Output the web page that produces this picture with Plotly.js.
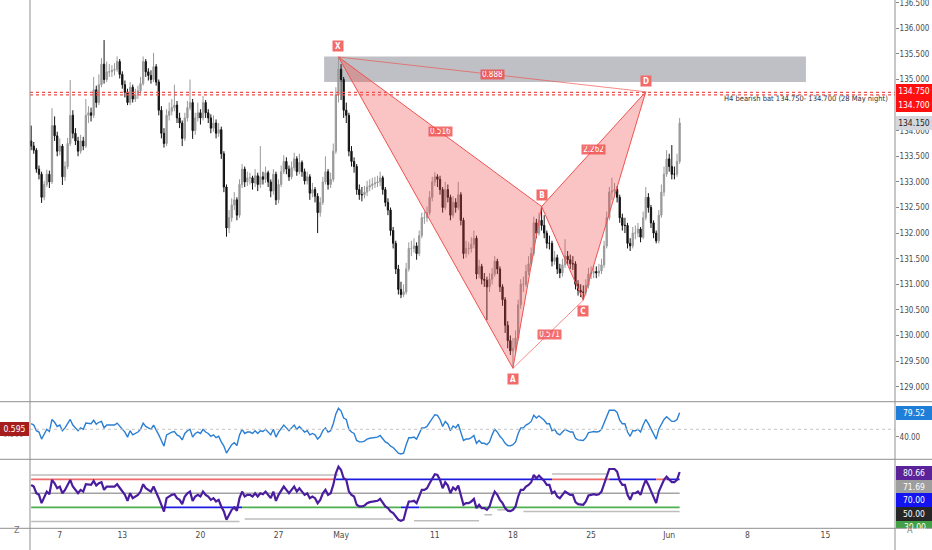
<!DOCTYPE html>
<html><head><meta charset="utf-8">
<script src="https://cdn.plot.ly/plotly-3.0.1.min.js"></script>
<style>html,body{margin:0;padding:0;background:#fff;}#chart{width:932px;height:550px;}</style>
</head><body><div id="chart"></div>
<script>
// ---------------- DATA ----------------
const tradingDays = ['2020-04-03','2020-04-06','2020-04-07','2020-04-08','2020-04-09','2020-04-10','2020-04-13','2020-04-14','2020-04-15','2020-04-16','2020-04-17','2020-04-20','2020-04-21','2020-04-22','2020-04-23','2020-04-24','2020-04-27','2020-04-28','2020-04-29','2020-04-30','2020-05-01','2020-05-04','2020-05-05','2020-05-06','2020-05-07','2020-05-08','2020-05-11','2020-05-12','2020-05-13','2020-05-14','2020-05-15','2020-05-18','2020-05-19','2020-05-20','2020-05-21','2020-05-22','2020-05-25','2020-05-26','2020-05-27','2020-05-28','2020-05-29','2020-06-01'];
const barHours = ['00:00','04:00','08:00','12:00','16:00','20:00'];
const firstBar = '2020-04-03 04:00';

const open = [
133.80,133.70,133.62,133.25,133.15,132.70,132.95,133.15,133.00,134.10,
133.90,133.60,133.70,133.10,133.30,133.75,134.30,133.95,133.80,133.60,
133.80,133.70,134.30,134.35,134.30,134.80,134.55,134.90,135.30,135.00,
135.15,135.15,135.18,135.20,135.35,135.10,134.90,134.75,134.55,134.85,
134.62,134.70,134.78,134.92,135.35,135.15,135.08,135.00,135.25,134.95,
134.40,133.95,133.75,134.30,134.38,134.45,134.50,134.25,134.15,133.85,
134.25,134.45,134.55,134.00,134.25,134.35,134.25,134.55,134.35,134.25,
134.05,134.15,133.95,134.02,133.55,132.90,132.10,132.30,132.55,132.65,
132.35,132.95,133.25,133.00,133.08,133.08,132.98,133.12,132.95,133.10,
133.05,133.18,133.00,132.82,133.15,132.65,132.95,133.20,133.40,133.25,
133.10,133.28,133.45,133.20,133.38,133.20,133.02,133.10,132.78,132.85,
132.72,132.40,132.60,133.00,133.20,132.95,133.05,133.60,134.70,135.20,
135.00,134.40,134.30,133.60,133.40,133.30,132.85,132.75,132.75,132.80,
132.90,132.93,132.96,132.98,133.00,133.08,132.85,132.60,132.45,132.05,
131.80,131.30,130.90,130.80,130.85,131.30,131.70,131.70,131.75,131.60,
131.95,132.30,132.30,132.40,132.70,133.00,133.10,133.05,132.85,132.50,
132.85,132.70,132.35,132.60,132.50,132.75,132.25,131.60,131.70,131.70,
131.78,131.90,131.20,131.35,131.10,131.08,130.95,131.10,131.20,131.45,
131.30,130.95,130.70,130.20,129.90,129.70,129.75,129.95,130.60,131.00,
131.00,131.25,131.40,131.60,132.20,132.00,132.25,132.15,132.00,131.80,
131.80,131.45,131.52,131.30,131.22,131.38,131.55,131.48,131.40,131.40,
131.00,130.88,130.85,130.84,130.98,131.20,131.22,131.25,131.22,131.26,
131.38,131.75,132.30,132.80,132.82,132.85,132.70,132.30,132.15,132.15,
131.80,131.75,132.00,132.00,132.08,131.92,132.30,132.70,132.50,132.20,
132.00,131.85,132.35,132.80,133.15,133.45,133.30,133.15,133.15,133.40];

const high = [
134.10,133.78,133.66,133.32,133.20,133.02,133.24,133.22,134.44,134.28,
133.98,133.85,133.74,133.40,133.86,134.99,134.40,134.05,133.88,133.92,
133.88,134.62,134.48,134.45,135.05,134.88,135.10,135.42,135.77,135.35,
135.30,135.28,135.32,135.45,135.40,135.16,134.98,134.82,134.95,134.90,
134.82,134.88,135.05,135.45,135.40,135.22,135.18,135.52,135.30,135.00,
134.48,134.05,134.42,134.55,134.62,134.90,134.58,134.35,134.20,134.35,
134.58,135.00,134.62,134.35,134.55,134.42,134.68,134.60,134.42,134.32,
134.30,134.22,134.15,134.08,133.60,132.95,132.45,132.68,132.80,132.70,
133.05,133.35,133.30,133.20,133.18,133.12,133.25,133.18,133.70,133.20,
133.30,133.22,133.05,133.25,133.20,133.05,133.32,133.52,133.48,133.32,
133.40,133.57,133.50,133.55,133.42,133.26,133.20,133.15,132.98,132.90,
132.78,132.70,133.10,133.50,133.25,133.18,133.75,134.85,135.44,135.30,
135.05,134.55,134.35,133.70,133.48,133.35,132.95,132.90,132.92,133.02,
133.05,133.08,133.10,133.12,133.20,133.12,132.90,132.68,132.50,132.12,
131.85,131.38,131.05,131.00,131.42,131.82,131.85,131.90,131.82,132.05,
132.40,132.42,132.52,132.82,133.10,133.19,133.15,133.12,132.90,133.00,
132.95,132.75,132.72,132.68,133.00,132.80,132.30,131.85,131.82,131.92,
132.05,131.95,131.48,131.40,131.22,131.15,131.22,131.32,131.55,131.50,
131.35,131.00,130.75,130.28,130.00,129.95,130.10,130.70,131.10,131.15,
131.38,131.55,131.72,132.32,132.28,132.40,132.52,132.35,132.05,131.95,
131.85,131.65,131.58,131.40,131.50,131.88,131.65,131.58,131.55,131.45,
131.08,131.00,130.98,131.10,131.32,131.35,131.38,131.35,131.40,131.50,
131.85,132.42,132.90,133.08,132.98,132.92,132.75,132.38,132.30,132.20,
131.90,132.12,132.15,132.20,132.12,132.42,132.90,132.78,132.55,132.25,
132.05,132.45,132.95,133.30,133.62,133.55,133.72,133.30,133.55,134.25];

const low = [
133.62,133.55,133.18,133.05,132.59,132.64,132.90,132.88,132.96,133.80,
133.50,133.52,132.94,133.02,133.25,133.70,133.85,133.72,133.50,133.55,
133.62,133.66,134.15,134.18,134.25,134.45,134.50,134.85,134.92,134.95,
135.05,135.05,135.08,135.15,135.02,134.82,134.65,134.50,134.50,134.55,
134.56,134.62,134.72,134.88,135.05,134.98,134.92,134.95,134.88,134.30,
133.85,133.67,133.70,134.20,134.30,134.38,134.15,134.05,133.70,133.80,
134.18,134.40,133.84,133.92,134.18,134.12,134.20,134.25,134.15,133.95,
133.98,133.85,133.88,133.45,132.80,131.93,132.00,132.22,132.45,132.25,
132.30,132.88,132.90,132.92,132.95,132.85,132.90,132.82,132.88,132.95,
132.98,132.90,132.70,132.75,132.55,132.58,132.90,133.15,133.15,133.02,
133.05,133.22,133.12,133.15,133.10,132.95,132.95,132.65,132.70,132.60,
132.00,132.32,132.55,132.95,132.85,132.88,133.00,133.55,134.55,134.60,
134.25,134.15,133.50,133.30,133.18,132.75,132.65,132.62,132.68,132.72,
132.82,132.85,132.88,132.90,132.92,132.75,132.52,132.35,131.95,131.70,
131.20,130.80,130.73,130.75,130.80,131.25,131.55,131.62,131.48,131.55,
131.90,132.18,132.22,132.35,132.62,132.92,132.90,132.75,132.40,132.45,
132.60,132.25,132.30,132.40,132.45,132.15,131.50,131.52,131.58,131.62,
131.70,131.10,131.12,131.00,130.95,130.30,130.85,131.00,131.15,131.20,
130.85,130.58,130.05,129.75,129.62,129.36,129.65,129.90,130.52,130.85,
130.95,131.18,131.35,131.55,131.90,131.95,132.05,131.90,131.70,131.68,
131.35,131.38,131.20,131.12,131.15,131.32,131.38,131.30,131.28,130.90,
130.78,130.75,130.69,130.78,130.92,131.10,131.12,131.12,131.15,131.20,
131.32,131.70,132.25,132.65,132.70,132.60,132.20,132.05,132.00,131.70,
131.65,131.70,131.88,131.92,131.82,131.88,132.25,132.40,132.10,131.90,
131.80,131.80,132.30,132.72,133.10,133.20,133.05,133.05,133.10,133.35];

const close = [
133.70,133.62,133.25,133.15,132.70,132.95,133.15,133.00,134.10,133.90,
133.60,133.70,133.10,133.30,133.75,134.30,133.95,133.80,133.60,133.80,
133.70,134.30,134.35,134.30,134.80,134.55,134.90,135.30,135.00,135.15,
135.15,135.18,135.20,135.35,135.10,134.90,134.75,134.55,134.85,134.62,
134.70,134.78,134.92,135.35,135.15,135.08,135.00,135.25,134.95,134.40,
133.95,133.75,134.30,134.38,134.45,134.50,134.25,134.15,133.85,134.25,
134.45,134.55,134.00,134.25,134.35,134.25,134.55,134.35,134.25,134.05,
134.15,133.95,134.02,133.55,132.90,132.10,132.30,132.55,132.65,132.35,
132.95,133.25,133.00,133.08,133.08,132.98,133.12,132.95,133.10,133.05,
133.18,133.00,132.82,133.15,132.65,132.95,133.20,133.40,133.25,133.10,
133.28,133.45,133.20,133.38,133.20,133.02,133.10,132.78,132.85,132.72,
132.40,132.60,133.00,133.20,132.95,133.05,133.60,134.70,135.20,135.00,
134.40,134.30,133.60,133.40,133.30,132.85,132.75,132.75,132.80,132.90,
132.93,132.96,132.98,133.00,133.08,132.85,132.60,132.45,132.05,131.80,
131.30,130.90,130.80,130.85,131.30,131.70,131.70,131.75,131.60,131.95,
132.30,132.30,132.40,132.70,133.00,133.10,133.05,132.85,132.50,132.85,
132.70,132.35,132.60,132.50,132.75,132.25,131.60,131.70,131.70,131.78,
131.90,131.20,131.35,131.10,131.08,130.95,131.10,131.20,131.45,131.30,
130.95,130.70,130.20,129.90,129.70,129.75,129.95,130.60,131.00,131.00,
131.25,131.40,131.60,132.20,132.00,132.25,132.15,132.00,131.80,131.80,
131.45,131.52,131.30,131.22,131.38,131.55,131.48,131.40,131.40,131.00,
130.88,130.85,130.84,130.98,131.20,131.22,131.25,131.22,131.26,131.38,
131.75,132.30,132.80,132.82,132.85,132.70,132.30,132.15,132.15,131.80,
131.75,132.00,132.00,132.08,131.92,132.30,132.70,132.50,132.20,132.00,
131.85,132.35,132.80,133.15,133.45,133.30,133.15,133.15,133.40,134.15];

const rsi = [
62.1,59.8,50.2,47.9,36.0,45.5,52.6,48.8,69.3,64.5,
57.4,59.8,50.2,55.0,62.1,69.3,59.8,55.0,50.2,55.0,
52.6,63.1,63.1,62.1,67.9,61.2,64.5,66.0,55.0,59.8,
59.8,59.8,59.8,63.1,57.4,52.6,47.9,39.3,50.2,43.1,
45.5,47.9,52.6,63.1,57.4,55.0,52.6,59.8,52.6,43.1,
33.6,24.0,43.1,45.5,47.9,48.8,43.1,40.7,34.5,45.5,
50.2,52.6,39.3,45.5,47.9,45.5,52.6,47.9,45.5,40.7,
43.1,38.3,40.7,31.2,24.0,12.1,19.3,26.4,29.8,25.0,
43.1,52.6,45.5,47.9,47.9,45.5,50.2,45.5,50.2,48.8,
52.6,47.9,43.1,52.6,39.3,47.9,55.0,59.8,55.0,50.2,
55.0,59.8,52.6,57.4,52.6,47.9,50.2,43.1,45.5,43.1,
36.0,40.7,50.2,55.0,47.9,50.2,62.1,78.8,88.3,83.6,
71.7,69.3,52.6,47.9,45.5,33.6,31.2,31.2,32.5,36.0,
37.4,38.3,38.8,39.3,42.1,36.0,31.2,28.8,24.0,21.7,
16.9,12.1,10.7,12.1,26.4,38.3,38.3,39.3,36.0,45.5,
55.0,55.0,57.4,64.5,71.7,77.4,76.4,69.3,57.4,66.0,
61.2,50.2,58.3,55.0,61.2,47.9,33.6,36.0,36.0,38.3,
42.1,28.8,33.6,28.8,28.8,26.4,31.2,43.1,52.6,47.9,
40.7,36.0,28.8,25.0,24.5,26.4,31.2,45.5,55.0,55.0,
59.8,62.1,66.0,76.4,71.7,75.5,71.7,67.9,62.1,62.1,
50.2,52.6,45.5,43.1,47.9,52.6,50.2,47.9,47.9,37.4,
34.5,33.6,33.6,38.3,46.9,47.9,48.8,47.9,48.8,52.6,
64.5,76.4,85.0,85.0,85.0,81.2,67.9,62.1,62.1,47.9,
40.7,50.2,50.2,52.6,47.9,59.8,69.3,62.1,52.6,45.5,
36.0,52.6,62.1,69.3,74.0,70.0,66.0,66.0,69.3,80.7];

// Harmonic pattern
const patternNames = ['X','A','B','C','D'];
const patternTimes = ['2020-04-30 20:00','2020-05-18 00:00','2020-05-19 20:00','2020-05-22 12:00','2020-05-28 12:00'];
const patternPrices = [135.44, 129.36, 132.52, 130.69, 134.76];
const ratioLegs = [['X','B'],['B','D'],['X','D'],['A','C']];
const ratioValues = ['0.516','2.262','0.888','0.571'];

// Supply zone and target lines
const zoneTimes = ['2020-04-29 22:00','2020-06-11 18:00'];
const zonePrices = [134.95, 135.45];
const targetLevels = [134.75, 134.70];
const noteText = 'H4 bearish bat 134.750- 134.700 (28 May night)';
const notePrice = 134.62;

// Oscillator panels
const panel2RefLevel = 52.6;
const panel2Label = '79.52';
const panel2Ticks = [40];
const panel2TickText = ['40.00'];
const leftLabel = '0.595';
const leftSubLabel = '0.500';
const rsiLevels = [70, 50, 30];
const rsiLabelTexts = ['80.66','71.69','70.00','50.00','30.00'];

const upperSegStart = ['2020-04-03 04:00','2020-04-30 16:00','2020-05-20 12:00','2020-05-26 04:00','2020-05-29 04:00','2020-05-29 20:00'];
const upperSegEnd   = ['2020-04-30 16:00','2020-05-20 12:00','2020-05-26 04:00','2020-05-29 04:00','2020-05-29 20:00','2020-06-01 16:00'];
const upperSegState = ['idle','hit','idle','hit','idle','hit'];
const lowerSegStart = ['2020-04-03 04:00','2020-04-15 16:00','2020-04-22 16:00','2020-05-06 20:00','2020-05-08 00:00'];
const lowerSegEnd   = ['2020-04-15 16:00','2020-04-22 16:00','2020-05-06 20:00','2020-05-08 00:00','2020-06-01 16:00'];
const lowerSegState = ['idle','hit','idle','hit','idle'];
const graySegStart = ['2020-04-03 04:00','2020-05-20 12:00','2020-04-03 04:00','2020-04-22 20:00','2020-05-07 16:00','2020-05-14 04:00','2020-05-15 00:00','2020-05-18 16:00'];
const graySegEnd   = ['2020-04-30 20:00','2020-05-26 00:00','2020-04-22 12:00','2020-05-06 08:00','2020-05-13 20:00','2020-05-14 16:00','2020-05-15 20:00','2020-06-01 16:00'];
const graySegLevel = [76.4, 77.9, 9.8, 13.1, 10.7, 19.3, 26.4, 24.0];

// X axis
const xTickVals = ['2020-04-07','2020-04-13','2020-04-20','2020-04-27','2020-05-01','2020-05-11','2020-05-18','2020-05-25','2020-06-01','2020-06-08','2020-06-15'];
const xTickText = ['7','13','20','27','May','11','18','25','Jun','8','15'];
const xRange = ['2020-04-03 02:13','2020-06-19 10:48'];

// ---------------- BUILD ----------------
const FONT = '"Liberation Sans Narrow", "DejaVu Sans Condensed", Roboto, Arial, sans-serif';
const slots = tradingDays.flatMap(d => barHours.map(h => d + ' ' + h));
const s0 = slots.indexOf(firstBar);
const times = slots.slice(s0, s0 + close.length);
const nBars = times.length;
const lastT = times[nBars - 1];

const plotH = 528, plotW = 865;
const py = v => (plotH - v) / plotH;   // pixel -> paper y
const pxp = v => (v - 30) / plotW;     // pixel -> paper x
const dMain = [py(401.7), 1], d2 = [py(459.3), py(401.7)], d3 = [0, py(459.3)];

const traces = [];
traces.push({type:'candlestick', x:times, open:open, high:high, low:low, close:close,
  xaxis:'x', yaxis:'y', whiskerwidth:0, hoverinfo:'skip', showlegend:false,
  increasing:{line:{color:'#9a9a9a', width:1}, fillcolor:'#9a9a9a'},
  decreasing:{line:{color:'#121212', width:1}, fillcolor:'#121212'}});

const P = {};
patternNames.forEach((nm, i) => { P[nm] = {t:patternTimes[i], p:patternPrices[i], i:times.indexOf(patternTimes[i])}; });
function tri(a, b, c) {
  return {type:'scatter', mode:'lines', xaxis:'x', yaxis:'y',
    x:[P[a].t, P[b].t, P[c].t, P[a].t], y:[P[a].p, P[b].p, P[c].p, P[a].p],
    fill:'toself', fillcolor:'rgba(242,72,72,0.32)', line:{color:'#ef5350', width:1},
    hoverinfo:'skip', showlegend:false};
}
function leg(a, b) {
  return {type:'scatter', mode:'lines', xaxis:'x', yaxis:'y',
    x:[P[a].t, P[b].t], y:[P[a].p, P[b].p], line:{color:'rgba(239,83,80,0.85)', width:0.8},
    hoverinfo:'skip', showlegend:false};
}
traces.push(tri('X','A','B'), tri('B','C','D'), leg('X','D'), leg('A','C'));

// panel 2: blue oscillator line
traces.push({type:'scatter', mode:'lines', x:times, y:rsi, xaxis:'x', yaxis:'y2',
  line:{color:'#2a7fd4', width:1.4}, hoverinfo:'skip', showlegend:false});

// panel 3: level lines
function seg(t0, t1, lvl, color, w) {
  return {type:'scatter', mode:'lines', x:[t0, t1], y:[lvl, lvl], xaxis:'x', yaxis:'y3',
    line:{color:color, width:w}, hoverinfo:'skip', showlegend:false};
}
const upperColors = {idle:'#ef6a6a', hit:'#1c1ce0'};
const lowerColors = {idle:'#4caf50', hit:'#1c1ce0'};
graySegStart.forEach((t, i) => traces.push(seg(t, graySegEnd[i], graySegLevel[i], '#bdbdbd', 1.5)));
traces.push(seg(times[0], lastT, rsiLevels[1], '#a3a3a3', 1.5));
upperSegStart.forEach((t, i) => traces.push(seg(t, upperSegEnd[i], rsiLevels[0], upperColors[upperSegState[i]], 1.8)));
lowerSegStart.forEach((t, i) => traces.push(seg(t, lowerSegEnd[i], rsiLevels[2], lowerColors[lowerSegState[i]], 1.8)));
traces.push({type:'scatter', mode:'lines', x:times, y:rsi, xaxis:'x', yaxis:'y3',
  line:{color:'#4a1d9e', width:2.2}, hoverinfo:'skip', showlegend:false});

// ---------------- ANNOTATIONS ----------------
const ann = [];
function rightBox(text, yref, y, bg, fg, yshift) {
  ann.push({xref:'paper', x:1, xanchor:'left', xshift:1, yref:yref, y:y, yshift:yshift || 0,
    text:text, showarrow:false, bgcolor:bg, font:{family:FONT, size:8.5, color:fg},
    width:32, height:10, borderpad:1, borderwidth:1, bordercolor:bg});
}
// pattern point labels
patternNames.forEach(nm => {
  const up = (nm === 'X' || nm === 'B' || nm === 'D');
  ann.push({xref:'x', yref:'y', x:P[nm].t, y:P[nm].p, yshift: up ? 11 : -11,
    text:'<b>' + nm + '</b>', showarrow:false, bgcolor:'#f36a6a',
    font:{family:FONT, size:8, color:'#fff'}, width:8, height:8, borderpad:1});
});
// ratio labels at leg midpoints
ratioLegs.forEach((lg, k) => {
  const a = P[lg[0]], b = P[lg[1]];
  const mid = Math.round((a.i + b.i) / 2);
  ann.push({xref:'x', yref:'y', x:times[mid], y:(a.p + b.p) / 2,
    text:ratioValues[k], showarrow:false, bgcolor:'rgba(240,72,72,0.78)',
    font:{family:FONT, size:8, color:'#fff'}, width:21, height:7, borderpad:1});
});
// note
ann.push({xref:'paper', x:pxp(890), xanchor:'right', yref:'y', y:notePrice,
  text:noteText, showarrow:false, font:{family:FONT, size:7.5, color:'#333'}});
// right price labels
rightBox(targetLevels[0].toFixed(3), 'y', targetLevels[0], '#ff1010', '#fff', 1);
rightBox(targetLevels[1].toFixed(3), 'y', targetLevels[1], '#ff1010', '#fff', -10);
rightBox(close[nBars - 1].toFixed(3), 'y', close[nBars - 1], '#d6d7dc', '#222', 0);
// panel 2 labels
rightBox(panel2Label, 'y2', rsi[nBars - 1], '#1f7fd8', '#fff', 0);
ann.push({xref:'paper', x:0, xanchor:'right', xshift:-4, yref:'y2', y:panel2RefLevel, yshift:-5,
  text:leftSubLabel, showarrow:false, font:{family:FONT, size:8, color:'#999'}});
ann.push({xref:'paper', x:0, xanchor:'right', xshift:-1, yref:'y2', y:panel2RefLevel,
  text:leftLabel, showarrow:false, bgcolor:'#a51d1d', font:{family:FONT, size:8.5, color:'#fff'},
  width:25, height:10, borderpad:1, borderwidth:1, bordercolor:'#a51d1d'});
// panel 3 stacked labels
const p3Colors = ['#5a2399','#9e9e9e','#1414f0','#262626'];
for (let k = 0; k < 4; k++) rightBox(rsiLabelTexts[k], 'y3', rsi[nBars - 1], p3Colors[k], '#fff', -1.5 - 13.4 * k);
ann.push({xref:'paper', x:1, xanchor:'left', xshift:2, yref:'y3', y:rsi[nBars - 1], yshift:-1.5 - 13.4 * 4,
  width:32, height:10, text:rsiLabelTexts[4], showarrow:false, font:{family:FONT, size:8.5, color:'#fff'}});
// corner buttons
ann.push({xref:'paper', yref:'paper', x:pxp(12), y:py(537), text:'Z', showarrow:false, font:{family:FONT, size:9, color:'#777'}});
ann.push({xref:'paper', yref:'paper', x:pxp(915), y:py(537), text:'A', showarrow:false, font:{family:FONT, size:9, color:'#777'}});

// ---------------- SHAPES ----------------
const shapes = [];
shapes.push({type:'rect', xref:'x', yref:'y', x0:zoneTimes[0], x1:zoneTimes[1], y0:zonePrices[0], y1:zonePrices[1],
  fillcolor:'#bfc0c5', line:{width:0}, layer:'below'});
targetLevels.forEach(l => shapes.push({type:'line', xref:'paper', yref:'y', x0:0, x1:1, y0:l, y1:l,
  line:{color:'#ef4f4f', width:1.3, dash:'3px,3px'}, layer:'above'}));
shapes.push({type:'line', xref:'paper', yref:'y2', x0:0, x1:1, y0:panel2RefLevel, y1:panel2RefLevel,
  line:{color:'#c3c3c3', width:1, dash:'3px,3px'}});
[401.7, 459.3, 528.3].forEach(v => shapes.push({type:'line', xref:'paper', yref:'paper',
  x0:pxp(0), x1:pxp(932), y0:py(v), y1:py(v), line:{color:'#8f8f8f', width:1}}));
[0, 1].forEach(xp => shapes.push({type:'line', xref:'paper', yref:'paper',
  x0:xp, x1:xp, y0:py(550), y1:1, line:{color:'#8f8f8f', width:1}}));
shapes.push({type:'rect', xref:'paper', yref:'paper', x0:1 + 1 / plotW, x1:1 + 37 / plotW, y0:py(528), y1:py(521),
  fillcolor:'#43a047', line:{width:0}, layer:'below'});

const axFont = {family:FONT, size:8, color:'#4a4a4a'};
const layout = {
  width:932, height:550, margin:{l:30, r:37, t:0, b:22, pad:0},
  paper_bgcolor:'#ffffff', plot_bgcolor:'rgba(0,0,0,0)', showlegend:false, hovermode:false, dragmode:false,
  xaxis:{type:'date', range:xRange, rangebreaks:[{bounds:['sat','mon']}], anchor:'y3',
    tickvals:xTickVals, ticktext:xTickText, ticks:'', showgrid:false, zeroline:false, showline:false,
    tickfont:{family:FONT, size:8.5, color:'#4a4a4a'}, rangeslider:{visible:false}, fixedrange:true},
  yaxis:{domain:dMain, range:[128.707, 136.553], side:'right', anchor:'x', tick0:129, dtick:0.5,
    tickformat:'.3f', ticks:'outside', ticklen:3, tickcolor:'#888', showgrid:false, zeroline:false,
    showline:false, tickfont:axFont, ticklabeloverflow:'allow', ticklabelstandoff:-1, fixedrange:true},
  yaxis2:{domain:d2, range:[1.6, 99.5], side:'right', anchor:'x', tickvals:panel2Ticks, ticktext:panel2TickText,
    ticks:'outside', ticklen:3, tickcolor:'#888', showgrid:false, zeroline:false, showline:false,
    tickfont:axFont, ticklabelstandoff:-1, fixedrange:true},
  yaxis3:{domain:d3, range:[0.3, 98.9], side:'right', anchor:'x', tickvals:[], showticklabels:false,
    showgrid:false, zeroline:false, showline:false, fixedrange:true},
  annotations:ann, shapes:shapes
};
Plotly.newPlot('chart', traces, layout, {staticPlot:true, displayModeBar:false});
</script></body></html>
